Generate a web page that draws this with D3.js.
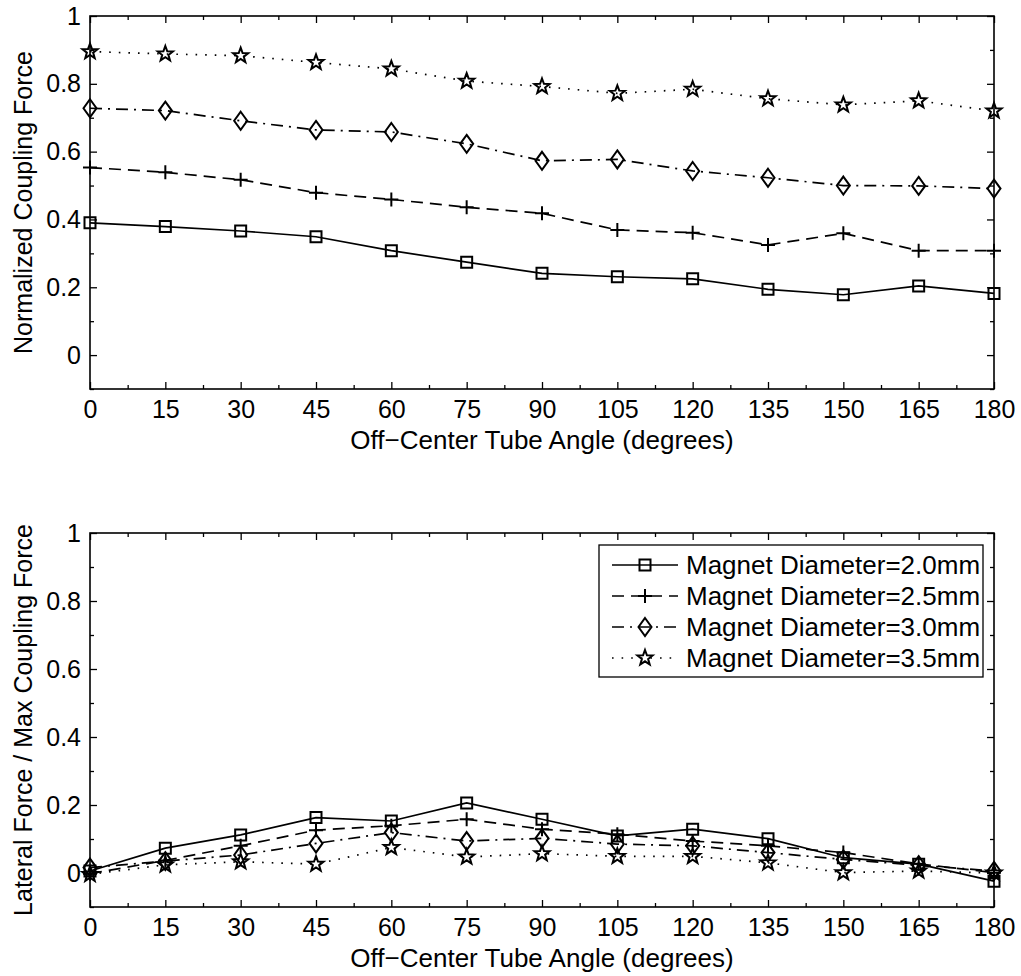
<!DOCTYPE html>
<html>
<head>
<meta charset="utf-8">
<script src="https://cdn.jsdelivr.net/npm/d3@7"></script>
<style>
  body { margin: 0; background: #fff; }
  svg { font-family: "Liberation Sans", Arial, Helvetica, sans-serif; }
  .tick text { font-size: 25px; fill: #000; }
</style>
</head>
<body>
<script>
// off-center tube angle (degrees)
const angles = [0, 15, 30, 45, 60, 75, 90, 105, 120, 135, 150, 165, 180]

const seriesNames = [
  'Magnet Diameter=2.0mm',
  'Magnet Diameter=2.5mm',
  'Magnet Diameter=3.0mm',
  'Magnet Diameter=3.5mm'
]

// normalized coupling force (top panel)
const coupling20 = [0.390, 0.379, 0.366, 0.349, 0.308, 0.274, 0.241, 0.231, 0.225, 0.194, 0.178, 0.204, 0.182]
const coupling25 = [0.553, 0.539, 0.517, 0.479, 0.459, 0.436, 0.418, 0.369, 0.361, 0.325, 0.359, 0.308, 0.308]
const coupling30 = [0.728, 0.721, 0.691, 0.664, 0.658, 0.623, 0.573, 0.577, 0.543, 0.523, 0.500, 0.499, 0.491]
const coupling35 = [0.895, 0.888, 0.883, 0.863, 0.844, 0.808, 0.792, 0.772, 0.784, 0.756, 0.738, 0.750, 0.720]

// lateral force / max coupling force (bottom panel)
const lateral20 = [0.006, 0.073, 0.112, 0.163, 0.153, 0.206, 0.158, 0.109, 0.129, 0.101, 0.045, 0.026, -0.024]
const lateral25 = [-0.002, 0.037, 0.080, 0.126, 0.139, 0.158, 0.129, 0.114, 0.094, 0.080, 0.060, 0.027, 0.001]
const lateral30 = [0.016, 0.035, 0.053, 0.087, 0.119, 0.094, 0.102, 0.085, 0.080, 0.060, 0.040, 0.023, 0.006]
const lateral35 = [-0.004, 0.024, 0.033, 0.026, 0.075, 0.047, 0.057, 0.049, 0.049, 0.030, 0.001, 0.006, 0.000]

const xTicks = [0, 15, 30, 45, 60, 75, 90, 105, 120, 135, 150, 165, 180]
const xMinorTicks = [7.5, 22.5, 37.5, 52.5, 67.5, 82.5, 97.5, 112.5, 127.5, 142.5, 157.5, 172.5]
const yTicks = [0, 0.2, 0.4, 0.6, 0.8, 1]
const yMinorTicks = [-0.1, 0.1, 0.3, 0.5, 0.7, 0.9]

const xLabel = 'Off\u2212Center Tube Angle (degrees)'

// line style + marker per series
const dashes = [null, '12,7', '12,6,2,6', '1.6,8']
const markers = ['square', 'plus', 'diamond', 'star']

const width = 1021
const height = 976
const left = 90
const right = 994

const svg = d3.select('body')
  .append('svg')
  .attr('width', width)
  .attr('height', height)

const x = d3.scaleLinear().domain([0, 180]).range([left, right])

function markerPath (type) {
  if (type === 'square') return 'M-5.5,-5.5h11v11h-11z'
  if (type === 'plus') return 'M-7,0H7M0,-7V7'
  if (type === 'diamond') return 'M0,-9L6.5,0L0,9L-6.5,0Z'
  // pentagram
  const pts = []
  for (let i = 0; i < 10; i++) {
    const r = i % 2 === 0 ? 8 : 3.3
    const a = -Math.PI / 2 + i * Math.PI / 5
    pts.push([r * Math.cos(a), r * Math.sin(a)])
  }
  return 'M' + pts.map(p => p.join(',')).join('L') + 'Z'
}

function drawPanel (top, bottom, series, yLabel, withLegend) {
  const y = d3.scaleLinear().domain([-0.1, 1]).range([bottom, top])
  const g = svg.append('g')

  // ticks, inward on all four sides
  g.append('g')
    .attr('transform', `translate(0,${bottom})`)
    .call(d3.axisBottom(x).tickValues(xTicks).tickSize(-7).tickSizeOuter(0).tickPadding(11))
  g.append('g')
    .attr('transform', `translate(0,${bottom})`)
    .call(d3.axisBottom(x).tickValues(xMinorTicks).tickSize(-4).tickSizeOuter(0).tickFormat(''))
  g.append('g')
    .attr('transform', `translate(0,${top})`)
    .call(d3.axisTop(x).tickValues(xTicks).tickSize(-7).tickSizeOuter(0).tickFormat(''))
  g.append('g')
    .attr('transform', `translate(0,${top})`)
    .call(d3.axisTop(x).tickValues(xMinorTicks).tickSize(-4).tickSizeOuter(0).tickFormat(''))
  g.append('g')
    .attr('transform', `translate(${left},0)`)
    .call(d3.axisLeft(y).tickValues(yTicks).tickSize(-7).tickSizeOuter(0).tickPadding(9)
      .tickFormat(d => d3.format('~g')(d)))
  g.append('g')
    .attr('transform', `translate(${left},0)`)
    .call(d3.axisLeft(y).tickValues(yMinorTicks).tickSize(-4).tickSizeOuter(0).tickFormat(''))
  g.append('g')
    .attr('transform', `translate(${right},0)`)
    .call(d3.axisRight(y).tickValues(yTicks).tickSize(-7).tickSizeOuter(0).tickFormat(''))
  g.append('g')
    .attr('transform', `translate(${right},0)`)
    .call(d3.axisRight(y).tickValues(yMinorTicks).tickSize(-4).tickSizeOuter(0).tickFormat(''))

  g.selectAll('.domain').remove()
  g.selectAll('.tick line').attr('stroke', '#000').attr('stroke-width', 1.3)

  g.append('rect')
    .attr('x', left)
    .attr('y', top)
    .attr('width', right - left)
    .attr('height', bottom - top)
    .attr('fill', 'none')
    .attr('stroke', '#000')
    .attr('stroke-width', 1.6)

  const line = d3.line()
    .x((d, i) => x(angles[i]))
    .y(d => y(d))

  series.forEach((vals, k) => {
    g.append('path')
      .datum(vals)
      .attr('d', line)
      .attr('fill', 'none')
      .attr('stroke', '#000')
      .attr('stroke-width', 1.7)
      .attr('stroke-dasharray', dashes[k])
    g.selectAll(null)
      .data(vals)
      .enter()
      .append('path')
      .attr('transform', (d, i) => `translate(${x(angles[i])},${y(d)})`)
      .attr('d', markerPath(markers[k]))
      .attr('fill', 'none')
      .attr('stroke', '#000')
      .attr('stroke-width', 2)
  })

  g.append('text')
    .attr('x', (left + right) / 2)
    .attr('y', bottom + 60)
    .attr('text-anchor', 'middle')
    .attr('font-size', 26)
    .text(xLabel)

  g.append('text')
    .attr('transform', `translate(32,${(top + bottom) / 2}) rotate(-90)`)
    .attr('text-anchor', 'middle')
    .attr('font-size', 25)
    .text(yLabel)

  if (withLegend) {
    const lg = g.append('g')
    lg.append('rect')
      .attr('x', 599)
      .attr('y', top + 12)
      .attr('width', 384)
      .attr('height', 132)
      .attr('fill', '#fff')
      .attr('stroke', '#000')
      .attr('stroke-width', 1.3)
    seriesNames.forEach((name, k) => {
      const cy = top + 32 + k * 31
      lg.append('line')
        .attr('x1', 612).attr('x2', 678)
        .attr('y1', cy).attr('y2', cy)
        .attr('stroke', '#000')
        .attr('stroke-width', 1.7)
        .attr('stroke-dasharray', dashes[k])
      lg.append('path')
        .attr('transform', `translate(645,${cy})`)
        .attr('d', markerPath(markers[k]))
        .attr('fill', 'none')
        .attr('stroke', '#000')
        .attr('stroke-width', 2)
      lg.append('text')
        .attr('x', 686)
        .attr('y', cy)
        .attr('dy', '0.35em')
        .attr('font-size', 26)
        .text(name)
    })
  }
}

drawPanel(16, 389, [coupling20, coupling25, coupling30, coupling35], 'Normalized Coupling Force', false)
drawPanel(533, 907, [lateral20, lateral25, lateral30, lateral35], 'Lateral Force / Max Coupling Force', true)
</script>
</body>
</html>
